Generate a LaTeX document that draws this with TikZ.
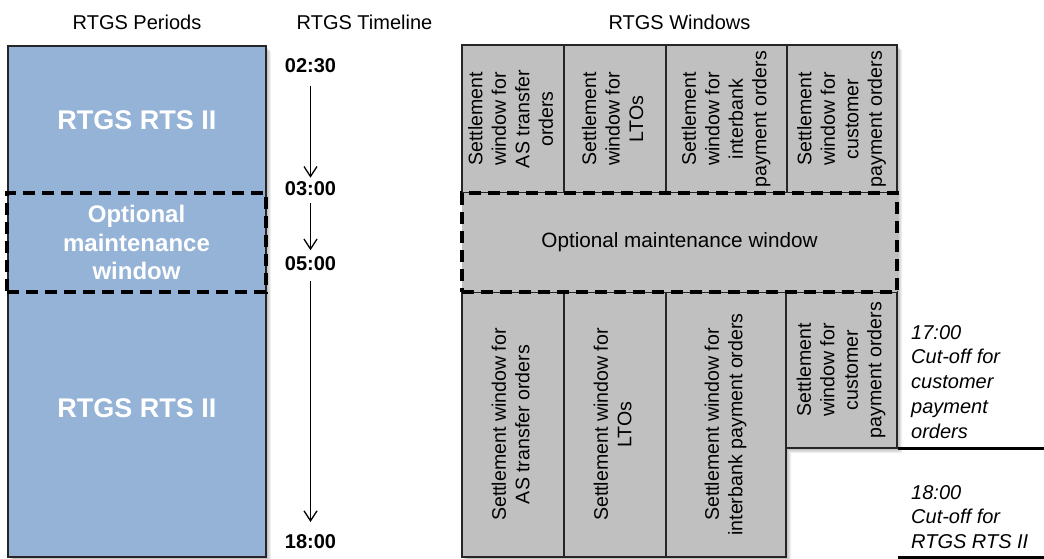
\documentclass[tikz,border=0pt]{standalone}
\usepackage{fontspec}
\usepackage{graphicx}
\setmainfont{Liberation Sans}
\usetikzlibrary{arrows.meta,calc}
\definecolor{periodblue}{HTML}{95B3D7}
\definecolor{wingray}{HTML}{C0C0C0}
\definecolor{edgegray}{HTML}{262626}
\newcommand{\colvtext}[1]{\rotatebox{90}{\begin{tabular}{@{}c@{}}#1\end{tabular}}}
\tikzset{
  hdr/.style={font=\fontsize{20}{24}\selectfont, anchor=base, inner sep=0},
  periodbox/.style={draw=edgegray, line width=1.2pt, fill=periodblue, inner sep=0},
  periodtxt/.style={text=white, font=\bfseries\fontsize{27}{29}\selectfont, align=center, inner sep=0},
  maintleft/.style={draw=black, line width=3.6pt, dash pattern=on 12pt off 7pt, inner sep=0,
    text=white, font=\bfseries\fontsize{24}{28.5}\selectfont, align=center},
  maintright/.style={draw=black, line width=3.6pt, dash pattern=on 12pt off 7pt, inner sep=0,
    fill=wingray, font=\fontsize{20.7}{24}\selectfont, align=center},
  winbox/.style={draw=edgegray, line width=1.1pt, fill=wingray, inner sep=0,
    font=\fontsize{19.6}{23.5}\selectfont},
  timelbl/.style={font=\bfseries\fontsize{20}{24}\selectfont, inner sep=0},
  tarrow/.style={line width=1.3pt, -{Straight Barb[length=10pt,width=13pt,line width=1.3pt]}},
  cuttxt/.style={font=\itshape\fontsize{20}{24.75}\selectfont, align=left, inner sep=0, anchor=north west},
  cutline/.style={line width=3pt},
  shadowfill/.style={fill=black, opacity=0.06}
}
\begin{document}
\begin{tikzpicture}[x=1pt,y=-1pt]
\useasboundingbox (0,0) rectangle (1044,559);
\fill[white] (0,0) rectangle (1044,559);

% soft shadows
\foreach \s in {1,2,3,4,5}{
  \fill[shadowfill, shift={(\s,\s)}] (8,46) rectangle (266,557);
  \fill[shadowfill, shift={(\s,\s)}] (462,45) -- (897,45) -- (897,448) -- (786,448) -- (786,557) -- (462,557) -- cycle;
}

% headers
\node[hdr] (h1) at (137,30) {RTGS Periods};
\node[hdr] (h2) at (364.5,30) {RTGS Timeline};
\node[hdr] (h3) at (679.5,30) {RTGS Windows};

% periods
\node[periodbox, minimum width=258pt, minimum height=511pt] (per) at (137,301.5) {};
\node[periodtxt] (rts1) at (137,120) {RTGS RTS II};
\node[periodtxt] (rts2) at (137,408) {RTGS RTS II};
\node[maintleft, minimum width=259pt, minimum height=99pt] (mleft) at (136.5,242.5) {Optional\\maintenance\\window};

% timeline
\node[timelbl] (t1) at (310.5,65.5) {02:30};
\node[timelbl] (t2) at (310.5,189) {03:00};
\node[timelbl] (t3) at (310.5,263.5) {05:00};
\node[timelbl] (t4) at (310.5,541.3) {18:00};
\draw[tarrow, shorten <=13pt, shorten >=4pt] (t1) -- (t2);
\draw[tarrow, shorten <=7pt, shorten >=6pt] (t2) -- (t3);
\draw[tarrow, shorten <=10pt, shorten >=12pt] (t3) -- (t4);

% windows top
\node[winbox, minimum width=102pt, minimum height=148pt] (c1t) at (513,119) {\colvtext{Settlement\\window for\\AS transfer\\orders}};
\node[winbox, minimum width=102pt, minimum height=148pt] (c2t) at (615,119) {\colvtext{Settlement\\window for\\LTOs}};
\node[winbox, minimum width=121pt, minimum height=148pt] (c3t) at (726.5,119) {\colvtext{Settlement\\window for\\interbank\\payment orders}};
\node[winbox, minimum width=110pt, minimum height=148pt] (c4t) at (842,119) {\colvtext{Settlement\\window for\\customer\\payment orders}};

% windows bottom
\node[winbox, minimum width=102pt, minimum height=265pt] (c1b) at (513,424.5) {\colvtext{Settlement window for\\AS transfer orders}};
\node[winbox, minimum width=102pt, minimum height=265pt] (c2b) at (615,424.5) {\colvtext{Settlement window for\\LTOs}};
\node[winbox, minimum width=120pt, minimum height=265pt] (c3b) at (726,424.5) {\colvtext{Settlement window for\\interbank payment orders}};
\node[winbox, minimum width=111pt, minimum height=156pt] (c4b) at (841.5,370) {\colvtext{Settlement\\window for\\customer\\payment orders}};

% maintenance window (right)
\node[maintright, minimum width=435pt, minimum height=99pt] (mright) at (679.5,242.5) {Optional maintenance window};

% cut-off notes
\coordinate (rend) at (1044,0);
\node[cuttxt] (cut1) at (911,325) {17:00\\Cut-off for\\customer\\payment\\orders};
\node[cuttxt, font=\itshape\fontsize{20}{24.5}\selectfont] (cut2) at (911,485) {18:00\\Cut-off for\\RTGS RTS II};
\draw[cutline] (c4b.south east) -- (c4b.south east -| rend);
\draw[cutline] (c4b.east |- c3b.south) -- (rend |- c3b.south);
\end{tikzpicture}
\end{document}
